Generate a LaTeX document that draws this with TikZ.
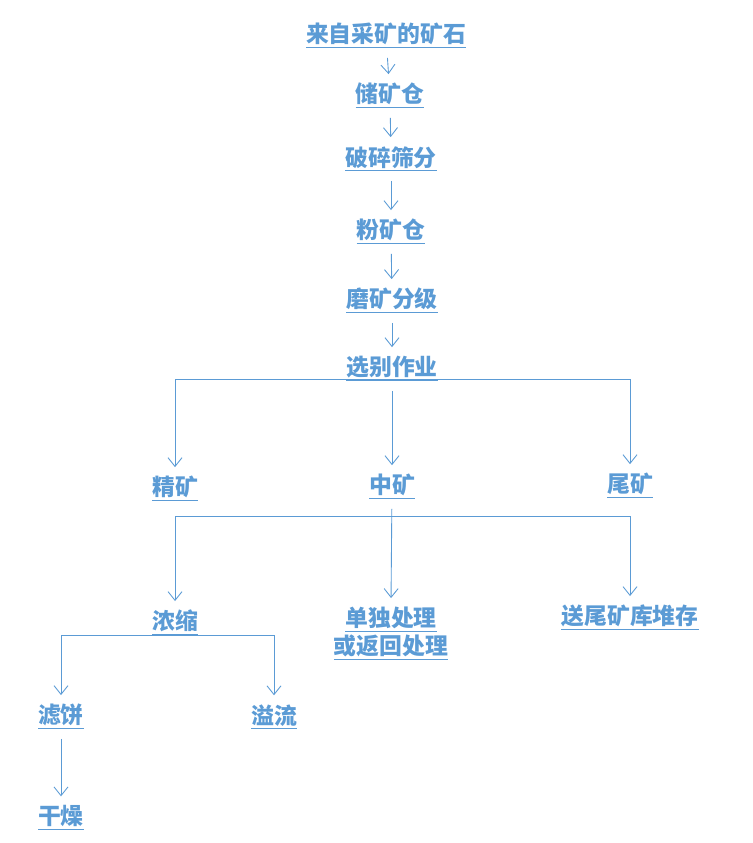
\documentclass[tikz,border=0pt]{standalone}
\usepackage{fontspec}
\newfontfamily\cjk{Noto Sans CJK SC}
\usetikzlibrary{arrows.meta}
\definecolor{flowblue}{RGB}{91,155,213}

\begin{document}
\begin{tikzpicture}
[x=0.02cm, y=-0.02cm,
every node/.style={text=flowblue,font=\cjk\bfseries\fontsize{13pt}{17pt}\selectfont,align=center,inner sep=2pt},
flow/.style={draw=flowblue,line width=0.5pt,-{Straight Barb[length=5pt,width=8pt]},shorten <=3pt,shorten >=3pt},
bar/.style={draw=flowblue,line width=0.5pt,-{Straight Barb[length=5pt,width=8pt]},shorten >=3pt},
]
\useasboundingbox (0,0) rectangle (752,843);

% Hauptlinie
\node (ore)   at (386,36)  {\underline{来自采矿的矿石}};
\node (bin)   at (390,96)  {\underline{储矿仓}};
\node (crush) at (391,159) {\underline{破碎筛分}};
\node (fine)  at (391,232) {\underline{粉矿仓}};
\node (grind) at (392,301) {\underline{磨矿分级}};
\node (sort)  at (392,369) {\underline{选别作业}};

\draw[flow] (ore) -- (bin);
\draw[flow] (bin) -- (crush);
\draw[flow] (crush) -- (fine);
\draw[flow] (fine) -- (grind);
\draw[flow] (grind) -- (sort);

% Produkte
\node (conc) at (175,489) {\underline{精矿}};
\node (mid)  at (392,487) {\underline{中矿}};
\node (tail) at (630,486) {\underline{尾矿}};

\coordinate (j1) at (392,379);
\draw[bar] (j1) -| (conc);
\draw[bar] (j1) -| (tail);
\draw[flow] (sort) -- (mid);

\node (thick)  at (175,623) {\underline{浓缩}};
\node (single) at (391,634) {\underline{单独处理}\\[-1pt]\underline{或返回处理}};
\node (store)  at (630,618) {\underline{送尾矿库堆存}};

\coordinate (j2) at (392,516);
\draw[bar] (j2) -| (thick);
\draw[bar] (j2) -| (store);
\draw[flow] (mid) -- (single.north);

\node (cake)  at (61,717)  {\underline{滤饼}};
\node (over)  at (274,717) {\underline{溢流}};
\node (dry)   at (61,818)  {\underline{干燥}};

\coordinate (j3) at (175,635);
\draw[bar] (j3) -| (cake);
\draw[bar] (j3) -| (over);
\draw[flow] (cake) -- (dry);
\end{tikzpicture}
\end{document}
